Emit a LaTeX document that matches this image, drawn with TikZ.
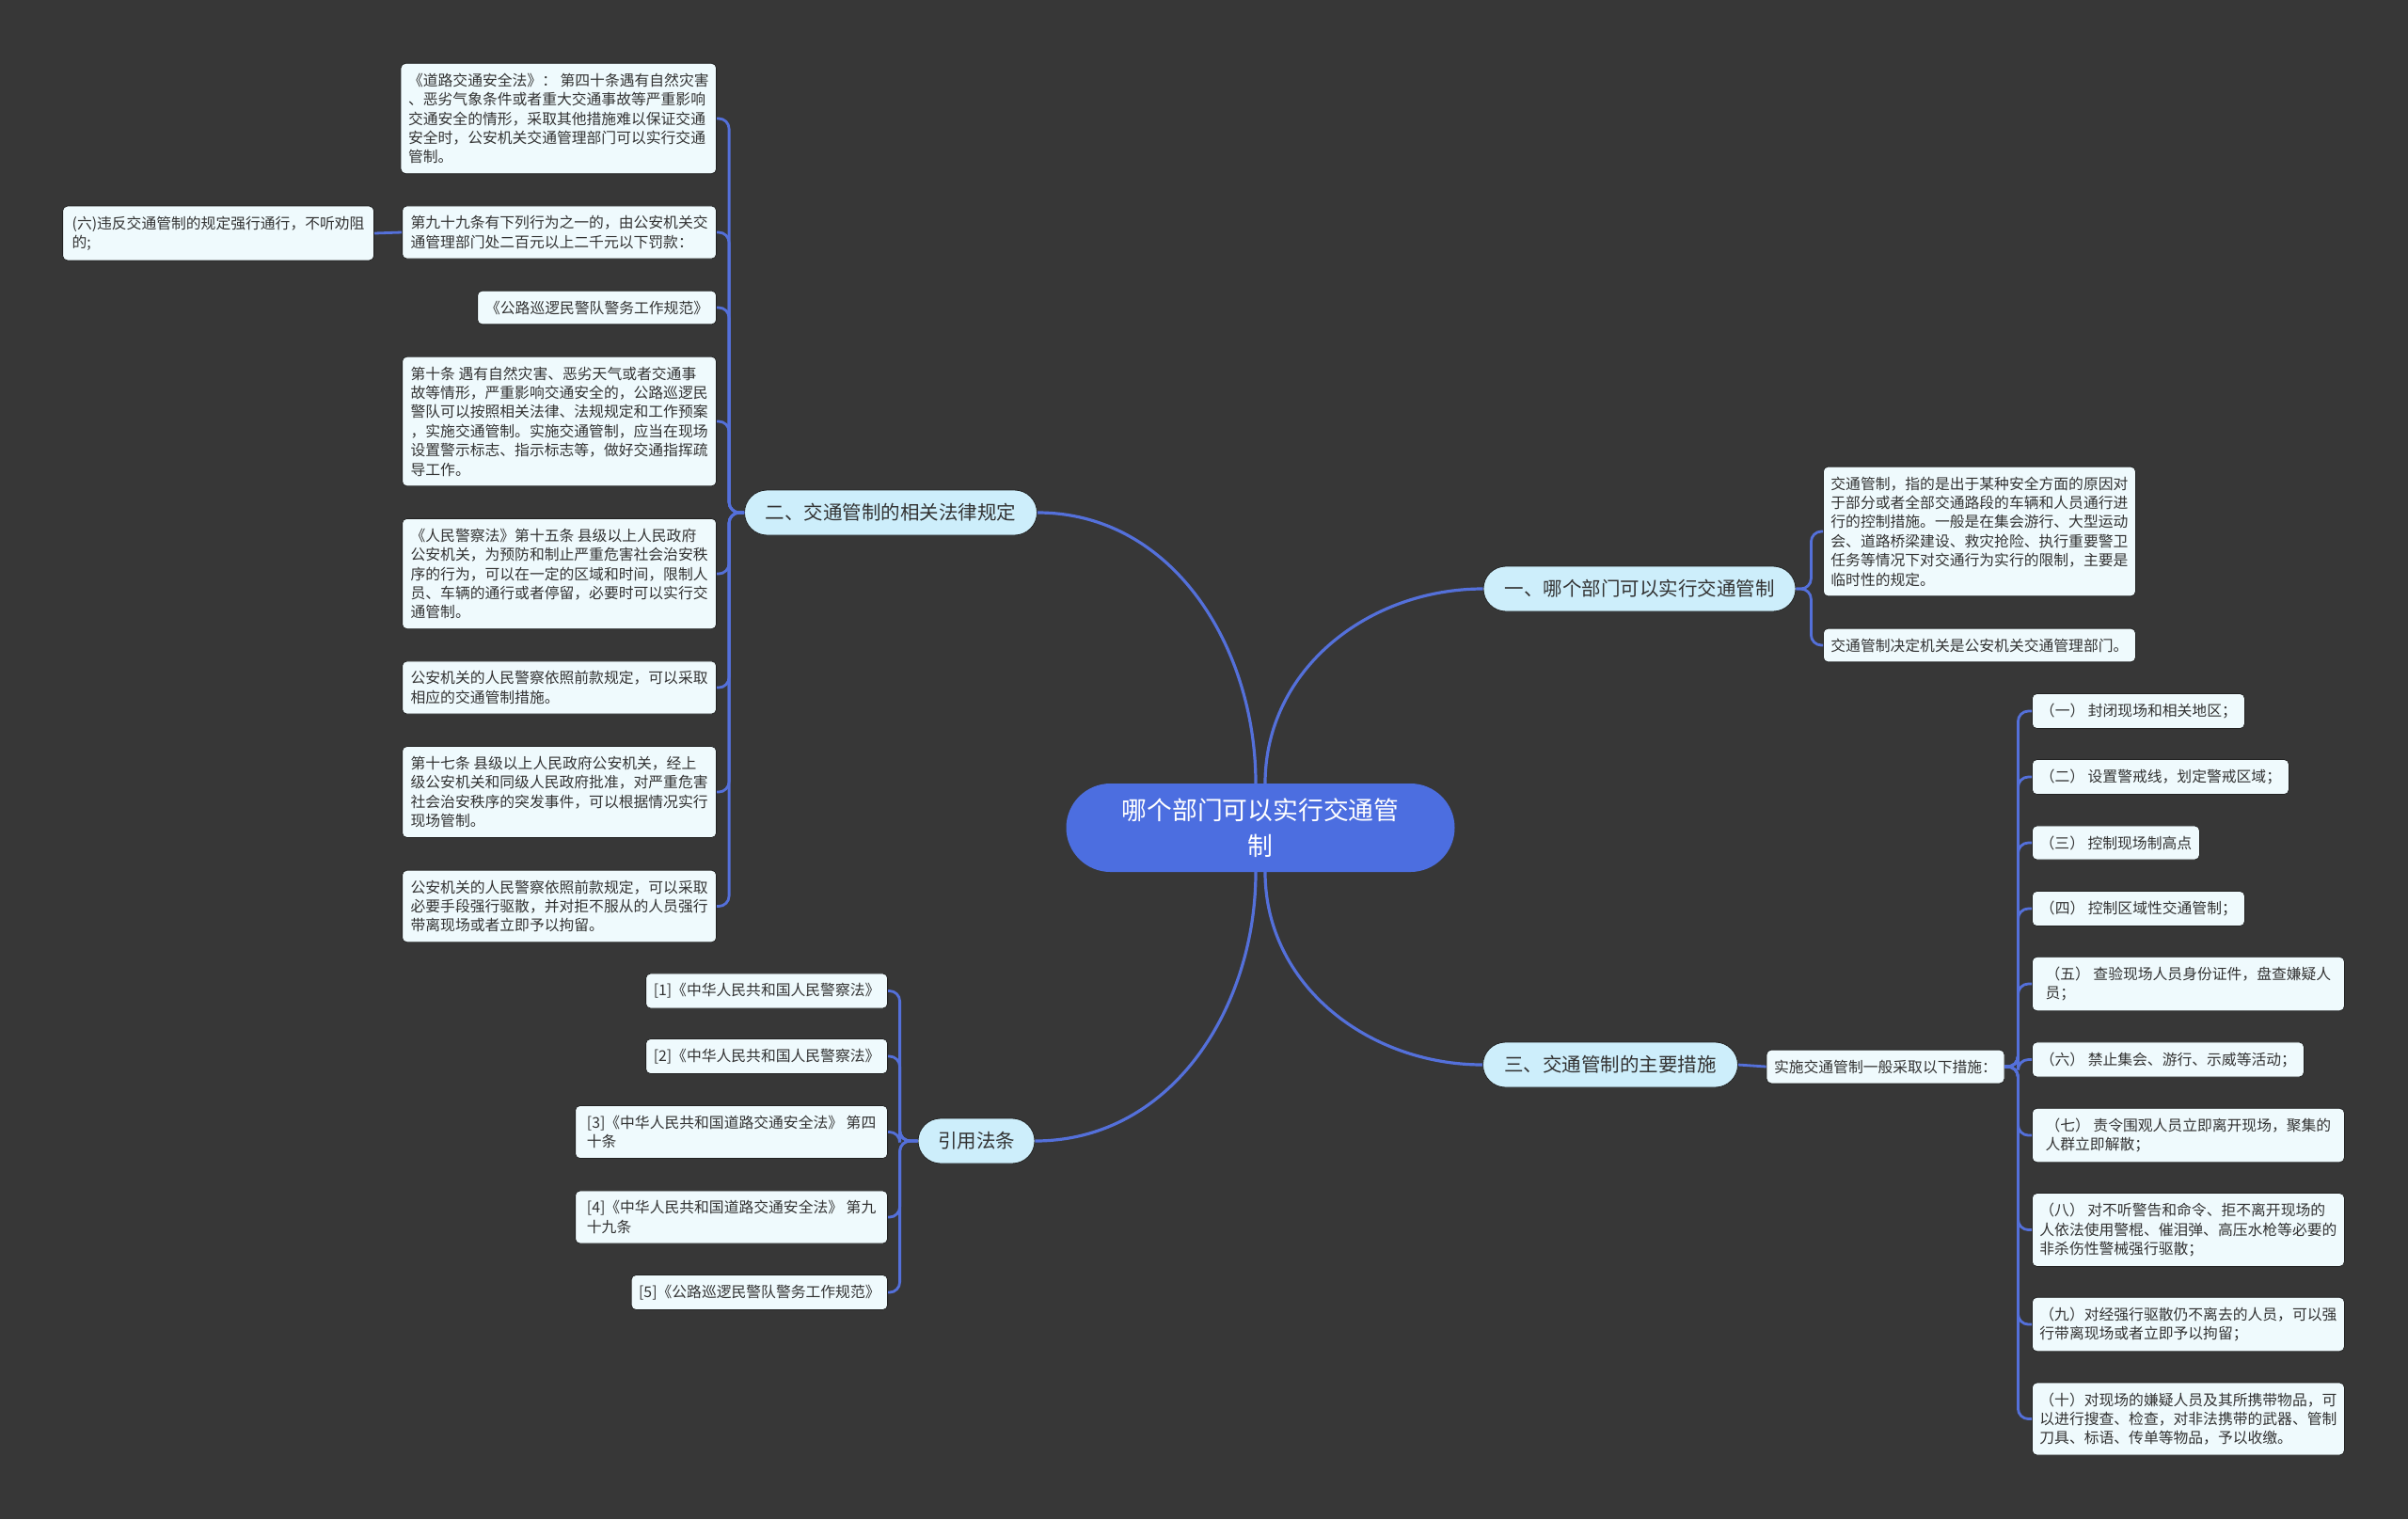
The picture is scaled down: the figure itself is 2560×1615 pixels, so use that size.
\documentclass[tikz,border=0pt]{standalone}
\usepackage{fontspec}
\setmainfont{Noto Sans CJK SC}
\usepackage{tikz}

\definecolor{bgcol}{HTML}{373737}
\definecolor{rootfill}{HTML}{4C6EE0}
\definecolor{branchfill}{HTML}{CDEEFB}
\definecolor{leaffill}{HTML}{EFFAFD}
\definecolor{edgecol}{HTML}{222222}
\definecolor{linkcol}{HTML}{5470DA}
\definecolor{textcol}{HTML}{333333}

\newcommand{\rootsize}{\fontsize{26.8}{38}\selectfont}
\newcommand{\branchsize}{\fontsize{20.5}{24}\selectfont}
\newcommand{\leafsize}{\fontsize{15.8}{20.4}\selectfont}

\begin{document}
\begin{tikzpicture}[x=1pt,y=-1pt,
    root/.style={fill=rootfill, rounded corners=47pt, text=white, font=\rootsize,
      align=center, minimum width=413pt, minimum height=94pt},
    branch/.style={draw=edgecol, line width=0.8pt, fill=branchfill, rounded corners=24pt,
      text=textcol, font=\branchsize, minimum height=48pt, minimum width=#1},
    leaf/.style={draw=edgecol, line width=0.8pt, fill=leaffill, rounded corners=5pt,
      text=textcol, font=\leafsize, align=left, inner xsep=8pt, inner ysep=10.5pt,
      minimum width=#1},
    leaf/.default=0pt,
    link/.style={draw=linkcol, line width=3.2pt},
    twig/.style={draw=linkcol, line width=2.8pt, rounded corners=11pt}]

\fill[bgcol] (0,0) rectangle (2560,1615);

\node (root) [root] at (1340,880) {哪个部门可以实行交通管\\制};

\node (who) [branch=332pt] at (1743,626) {一、哪个部门可以实行交通管制};
\node (law) [branch=311pt] at (947,545) {二、交通管制的相关法律规定};
\node (act) [branch=271pt] at (1712,1132) {三、交通管制的主要措施};
\node (cite) [branch=124pt] at (1038,1213) {引用法条};

\draw[link] ([xshift=5pt]root.north) to[out=90,in=180] (who.west);
\draw[link] ([xshift=-5pt]root.north) to[out=90,in=0] (law.east);
\draw[link] ([xshift=5pt]root.south) to[out=-90,in=180] (act.west);
\draw[link] ([xshift=-5pt]root.south) to[out=-90,in=0] (cite.east);

% 一
\node (def) [leaf=331pt, anchor=west] at (1938,565) {交通管制，指的是出于某种安全方面的原因对\\于部分或者全部交通路段的车辆和人员通行进\\行的控制措施。一般是在集会游行、大型运动\\会、道路桥梁建设、救灾抢险、执行重要警卫\\任务等情况下对交通行为实行的限制，主要是\\临时性的规定。};
\node (dept) [leaf=331pt, anchor=west] at (1938,686) {交通管制决定机关是公安机关交通管理部门。};
\foreach \c in {def,dept}
  \draw[twig] (who.east) -- ++(16,0) |- (\c.west);

% 二
\node (lawa) [leaf=334pt, anchor=east] at (762,126) {《道路交通安全法》： 第四十条遇有自然灾害\\、恶劣气象条件或者重大交通事故等严重影响\\交通安全的情形，采取其他措施难以保证交通\\安全时，公安机关交通管理部门可以实行交通\\管制。};
\node (lawb) [leaf=334pt, anchor=east] at (762,247) {第九十九条有下列行为之一的，由公安机关交\\通管理部门处二百元以上二千元以下罚款：};
\node (six) [leaf=331pt, anchor=east] at (398,248) {(六)违反交通管制的规定强行通行，不听劝阻\\的;};
\node (lawc) [leaf=254pt, anchor=east] at (762,327) {《公路巡逻民警队警务工作规范》};
\node (lawd) [leaf=334pt, anchor=east] at (762,448) {第十条 遇有自然灾害、恶劣天气或者交通事\\故等情形，严重影响交通安全的，公路巡逻民\\警队可以按照相关法律、法规规定和工作预案\\，实施交通管制。实施交通管制，应当在现场\\设置警示标志、指示标志等，做好交通指挥疏\\导工作。};
\node (lawe) [leaf=334pt, anchor=east] at (762,610) {《人民警察法》第十五条 县级以上人民政府\\公安机关，为预防和制止严重危害社会治安秩\\序的行为，可以在一定的区域和时间，限制人\\员、车辆的通行或者停留，必要时可以实行交\\通管制。};
\node (lawf) [leaf=334pt, anchor=east] at (762,731) {公安机关的人民警察依照前款规定，可以采取\\相应的交通管制措施。};
\node (lawg) [leaf=334pt, anchor=east] at (762,842) {第十七条 县级以上人民政府公安机关，经上\\级公安机关和同级人民政府批准，对严重危害\\社会治安秩序的突发事件，可以根据情况实行\\现场管制。};
\node (lawh) [leaf=334pt, anchor=east] at (762,963.5) {公安机关的人民警察依照前款规定，可以采取\\必要手段强行驱散，并对拒不服从的人员强行\\带离现场或者立即予以拘留。};
\foreach \c in {lawa,lawb,lawc,lawd,lawe,lawf,lawg,lawh}
  \draw[twig] (law.west) -- ++(-16,0) |- (\c.east);
\draw[twig] (lawb.west) -- (six.east);

% 引用法条
\node (ref1) [leaf=257pt, anchor=east] at (944,1053.5) {[1]《中华人民共和国人民警察法》};
\node (ref2) [leaf=257pt, anchor=east] at (944,1123) {[2]《中华人民共和国人民警察法》};
\node (ref3) [leaf=332pt, anchor=east] at (944,1203.5) {[3]《中华人民共和国道路交通安全法》 第四\\十条};
\node (ref4) [leaf=332pt, anchor=east] at (944,1294) {[4]《中华人民共和国道路交通安全法》 第九\\十九条};
\node (ref5) [leaf=272pt, anchor=east] at (944,1374) {[5]《公路巡逻民警队警务工作规范》};
\foreach \c in {ref1,ref2,ref3,ref4,ref5}
  \draw[twig] (cite.west) -- ++(-19,0) |- (\c.east);

% 三
\node (gen) [leaf=253pt] at (2004.5,1134) {实施交通管制一般采取以下措施：};
\draw[twig] (act.east) -- (gen.west);
\node (m1) [leaf=226pt, anchor=west] at (2160,756) {（一） 封闭现场和相关地区；};
\node (m2) [leaf=273pt, anchor=west] at (2160,826) {（二） 设置警戒线，划定警戒区域；};
\node (m3) [leaf=178pt, anchor=west] at (2160,896) {（三） 控制现场制高点};
\node (m4) [leaf=226pt, anchor=west] at (2160,966) {（四） 控制区域性交通管制；};
\node (m5) [leaf=332pt, anchor=west] at (2160,1046) {（五） 查验现场人员身份证件，盘查嫌疑人\\员；};
\node (m6) [leaf=289pt, anchor=west] at (2160,1126.5) {（六） 禁止集会、游行、示威等活动；};
\node (m7) [leaf=332pt, anchor=west] at (2160,1207) {（七） 责令围观人员立即离开现场，聚集的\\人群立即解散；};
\node (m8) [leaf=332pt, anchor=west] at (2160,1307.5) {（八） 对不听警告和命令、拒不离开现场的\\人依法使用警棍、催泪弹、高压水枪等必要的\\非杀伤性警械强行驱散；};
\node (m9) [leaf=332pt, anchor=west] at (2160,1408) {（九）对经强行驱散仍不离去的人员，可以强\\行带离现场或者立即予以拘留；};
\node (m10) [leaf=332pt, anchor=west] at (2160,1508.5) {（十）对现场的嫌疑人员及其所携带物品，可\\以进行搜查、检查，对非法携带的武器、管制\\刀具、标语、传单等物品，予以收缴。};
\foreach \c in {m1,m2,m3,m4,m5,m6,m7,m8,m9,m10}
  \draw[twig] (gen.east) -- ++(14,0) |- (\c.west);

\end{tikzpicture}
\end{document}
